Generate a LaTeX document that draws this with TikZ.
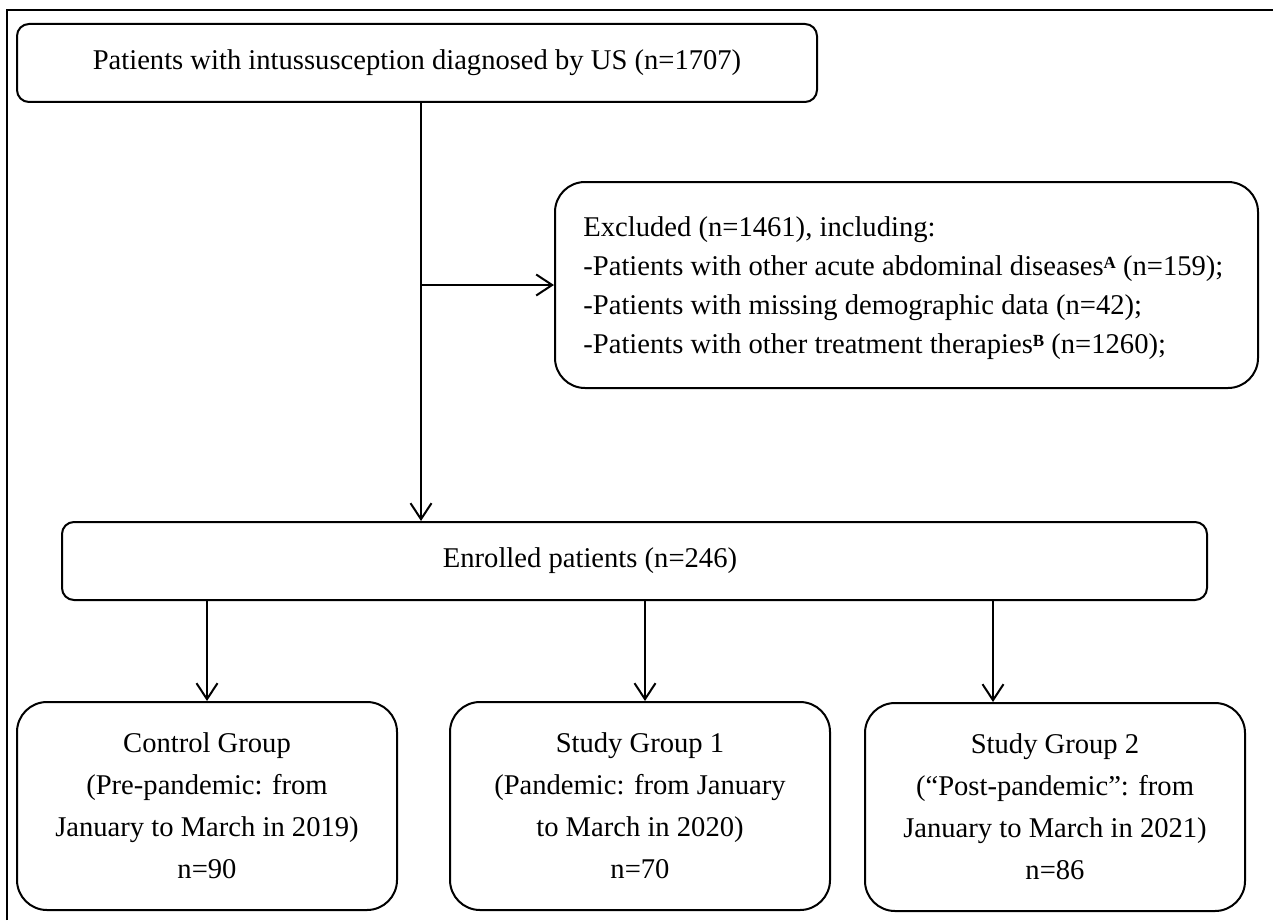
\documentclass[tikz,border=0pt]{standalone}
\usepackage{fontspec}
\setmainfont{Liberation Serif}
\usetikzlibrary{arrows.meta}
\newcommand{\supmark}[1]{\raisebox{0.5ex}{\fontsize{8.5}{8}\selectfont\textbf{#1}}}
\begin{document}
\begin{tikzpicture}[x=0.5pt,y=-0.5pt,
  box/.style={draw,line width=1pt,inner sep=0pt,align=center,font=\fontsize{14.3}{21}\selectfont},
  grp/.style={box,rounded corners=15pt,minimum width=190pt,minimum height=104pt},
  txt/.style={inner sep=0pt,align=left,font=\fontsize{14.3}{19.5}\selectfont},
  arr/.style={line width=1pt,-{Straight Barb[length=8pt,width=10.5pt,line width=1pt]}},
  ln/.style={line width=1pt}]
\useasboundingbox (0,0) rectangle (1273,920);
\draw[ln] (7,920) -- (7,10) -- (1273,10);
\node[box,rounded corners=6pt,minimum width=400pt,minimum height=39pt] (top) at (417,63)
  {Patients with intussusception diagnosed by US (n=1707)};
\node[box,rounded corners=15pt,minimum width=351.5pt,minimum height=103pt] (exc) at (906.5,285) {};
\node[txt,anchor=west] (exct) at (583,288)
  {Excluded (n=1461), including:\\
   -Patients with other acute abdominal diseases\supmark{A} (n=159);\\
   -Patients with missing demographic data (n=42);\\
   -Patients with other treatment therapies\supmark{B} (n=1260);};
\node[box,rounded corners=6pt,minimum width=572.5pt,minimum height=39pt] (enr) at (634.5,561) {};
\node[txt] (enrt) at (590,561) {Enrolled patients (n=246)};
\node[grp] (g1) at (207,806)
  {Control Group\\(Pre-pandemic: from\\January to March in 2019)\\n=90};
\node[grp] (g2) at (640,806)
  {Study Group 1\\(Pandemic: from January\\to March in 2020)\\n=70};
\node[grp] (g3) at (1055,807)
  {Study Group 2\\ (“Post-pandemic”: from\\January to March in 2021)\\n=86};
\coordinate (j) at (421,285);
\coordinate (a1) at (207,600);
\coordinate (a2) at (645,600);
\coordinate (a3) at (993,600);
\draw[ln] (top.south -| j) -- (j);
\draw[arr] (j) -- (enr.north -| j);
\draw[arr] (j) -- (exc.west);
\draw[arr] (a1) -- (a1 |- g1.north);
\draw[arr] (a2) -- (a2 |- g2.north);
\draw[arr] (a3) -- (a3 |- g3.north);
\end{tikzpicture}
\end{document}
